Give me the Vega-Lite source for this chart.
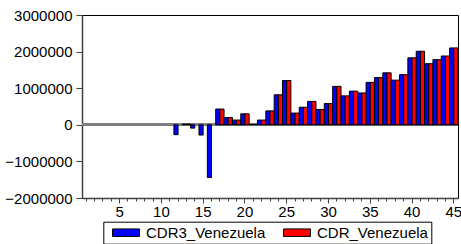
{
  "$schema": "https://vega.github.io/schema/vega-lite/v6.json",
  "width": 376,
  "height": 183,
  "autosize": {"type": "none"},
  "padding": {"left": 82, "top": 15, "right": 3, "bottom": 46},
  "background": "white",
  "config": {
    "font": "Liberation Sans",
    "view": {"stroke": "black", "strokeWidth": 1}
  },
  "data": {
    "values": [
      {"t": 12, "series": "CDR3_Venezuela", "value": -270000},
      {"t": 13, "series": "CDR3_Venezuela", "value": 20000},
      {"t": 13, "series": "CDR_Venezuela", "value": 20000},
      {"t": 14, "series": "CDR3_Venezuela", "value": -90000},
      {"t": 15, "series": "CDR3_Venezuela", "value": -280000},
      {"t": 16, "series": "CDR3_Venezuela", "value": -1440000},
      {"t": 17, "series": "CDR3_Venezuela", "value": 430000},
      {"t": 17, "series": "CDR_Venezuela", "value": 430000},
      {"t": 18, "series": "CDR3_Venezuela", "value": 200000},
      {"t": 18, "series": "CDR_Venezuela", "value": 200000},
      {"t": 19, "series": "CDR3_Venezuela", "value": 130000},
      {"t": 19, "series": "CDR_Venezuela", "value": 130000},
      {"t": 20, "series": "CDR3_Venezuela", "value": 300000},
      {"t": 20, "series": "CDR_Venezuela", "value": 300000},
      {"t": 21, "series": "CDR3_Venezuela", "value": 10000},
      {"t": 21, "series": "CDR_Venezuela", "value": 10000},
      {"t": 22, "series": "CDR3_Venezuela", "value": 130000},
      {"t": 22, "series": "CDR_Venezuela", "value": 130000},
      {"t": 23, "series": "CDR3_Venezuela", "value": 380000},
      {"t": 23, "series": "CDR_Venezuela", "value": 380000},
      {"t": 24, "series": "CDR3_Venezuela", "value": 820000},
      {"t": 24, "series": "CDR_Venezuela", "value": 820000},
      {"t": 25, "series": "CDR3_Venezuela", "value": 1210000},
      {"t": 25, "series": "CDR_Venezuela", "value": 1210000},
      {"t": 26, "series": "CDR3_Venezuela", "value": 320000},
      {"t": 26, "series": "CDR_Venezuela", "value": 320000},
      {"t": 27, "series": "CDR3_Venezuela", "value": 480000},
      {"t": 27, "series": "CDR_Venezuela", "value": 480000},
      {"t": 28, "series": "CDR3_Venezuela", "value": 640000},
      {"t": 28, "series": "CDR_Venezuela", "value": 640000},
      {"t": 29, "series": "CDR3_Venezuela", "value": 420000},
      {"t": 29, "series": "CDR_Venezuela", "value": 420000},
      {"t": 30, "series": "CDR3_Venezuela", "value": 580000},
      {"t": 30, "series": "CDR_Venezuela", "value": 580000},
      {"t": 31, "series": "CDR3_Venezuela", "value": 1050000},
      {"t": 31, "series": "CDR_Venezuela", "value": 1050000},
      {"t": 32, "series": "CDR3_Venezuela", "value": 790000},
      {"t": 32, "series": "CDR_Venezuela", "value": 790000},
      {"t": 33, "series": "CDR3_Venezuela", "value": 920000},
      {"t": 33, "series": "CDR_Venezuela", "value": 920000},
      {"t": 34, "series": "CDR3_Venezuela", "value": 870000},
      {"t": 34, "series": "CDR_Venezuela", "value": 870000},
      {"t": 35, "series": "CDR3_Venezuela", "value": 1160000},
      {"t": 35, "series": "CDR_Venezuela", "value": 1160000},
      {"t": 36, "series": "CDR3_Venezuela", "value": 1290000},
      {"t": 36, "series": "CDR_Venezuela", "value": 1290000},
      {"t": 37, "series": "CDR3_Venezuela", "value": 1420000},
      {"t": 37, "series": "CDR_Venezuela", "value": 1420000},
      {"t": 38, "series": "CDR3_Venezuela", "value": 1220000},
      {"t": 38, "series": "CDR_Venezuela", "value": 1220000},
      {"t": 39, "series": "CDR3_Venezuela", "value": 1370000},
      {"t": 39, "series": "CDR_Venezuela", "value": 1370000},
      {"t": 40, "series": "CDR3_Venezuela", "value": 1830000},
      {"t": 40, "series": "CDR_Venezuela", "value": 1830000},
      {"t": 41, "series": "CDR3_Venezuela", "value": 2010000},
      {"t": 41, "series": "CDR_Venezuela", "value": 2010000},
      {"t": 42, "series": "CDR3_Venezuela", "value": 1670000},
      {"t": 42, "series": "CDR_Venezuela", "value": 1670000},
      {"t": 43, "series": "CDR3_Venezuela", "value": 1780000},
      {"t": 43, "series": "CDR_Venezuela", "value": 1780000},
      {"t": 44, "series": "CDR3_Venezuela", "value": 1880000},
      {"t": 44, "series": "CDR_Venezuela", "value": 1880000},
      {"t": 45, "series": "CDR3_Venezuela", "value": 2100000},
      {"t": 45, "series": "CDR_Venezuela", "value": 2100000}
    ]
  },
  "layer": [
    {
      "mark": {"type": "rule", "color": "#808080", "strokeWidth": 2},
      "encoding": {
        "y": {
          "datum": 0,
          "type": "quantitative",
          "scale": {"domain": [-2000000, 3000000], "nice": false, "zero": false},
          "axis": {
            "title": null,
            "values": [-2000000, -1000000, 0, 1000000, 2000000, 3000000],
            "format": "d",
            "grid": false,
            "labelOverlap": false,
            "tickSize": 6,
            "labelPadding": 4,
            "labelFont": "Liberation Sans",
            "labelFontSize": 15,
            "labelColor": "black",
            "tickColor": "#404040",
            "domainColor": "#404040",
            "domainWidth": 1.5
          }
        }
      }
    },
    {
      "mark": {"type": "bar", "stroke": "black", "strokeWidth": 1, "opacity": 1},
      "encoding": {
        "x": {
          "field": "t",
          "type": "ordinal",
          "scale": {
            "domain": [1,2,3,4,5,6,7,8,9,10,11,12,13,14,15,16,17,18,19,20,21,22,23,24,25,26,27,28,29,30,31,32,33,34,35,36,37,38,39,40,41,42,43,44,45],
            "paddingInner": 0,
            "paddingOuter": 0
          },
          "axis": {
            "title": null,
            "labelAngle": 0,
            "labelExpr": "datum.value % 5 == 0 ? datum.label : ''",
            "labelFont": "Liberation Sans",
            "labelFontSize": 15,
            "labelColor": "black",
            "labelPadding": 1,
            "tickSize": {"condition": {"test": "datum.value % 5 == 0", "value": 5}, "value": 3},
            "tickColor": "#404040",
            "domainColor": "#404040",
            "domainWidth": 1.5
          }
        },
        "xOffset": {
          "field": "series",
          "type": "nominal",
          "scale": {"domain": ["CDR3_Venezuela", "CDR_Venezuela"], "paddingInner": 0}
        },
        "y": {
          "field": "value",
          "type": "quantitative",
          "scale": {"domain": [-2000000, 3000000], "nice": false, "zero": false},
          "axis": {
            "title": null,
            "values": [-2000000, -1000000, 0, 1000000, 2000000, 3000000],
            "format": "d",
            "grid": false,
            "labelOverlap": false,
            "tickSize": 6,
            "labelPadding": 4,
            "labelFont": "Liberation Sans",
            "labelFontSize": 15,
            "labelColor": "black",
            "tickColor": "#404040",
            "domainColor": "#404040",
            "domainWidth": 1.5
          }
        },
        "color": {
          "field": "series",
          "type": "nominal",
          "scale": {"domain": ["CDR3_Venezuela", "CDR_Venezuela"], "range": ["#0000FF", "#FF0000"]},
          "legend": {
            "title": null,
            "orient": "none",
            "legendX": 21.3,
            "legendY": 206.7,
            "direction": "horizontal",
            "columns": 2,
            "columnPadding": 12,
            "padding": 3,
            "strokeColor": "black",
            "fillColor": "white",
            "symbolType": "M-1.8,-0.5H1.8V0.5H-1.8Z",
            "symbolSize": 225,
            "symbolOffset": 11.7,
            "symbolStrokeColor": "black",
            "symbolStrokeWidth": 1,
            "symbolOpacity": 1,
            "labelOffset": 12,
            "labelFont": "Liberation Sans",
            "labelFontSize": 15,
            "labelColor": "black"
          }
        }
      }
    }
  ]
}
